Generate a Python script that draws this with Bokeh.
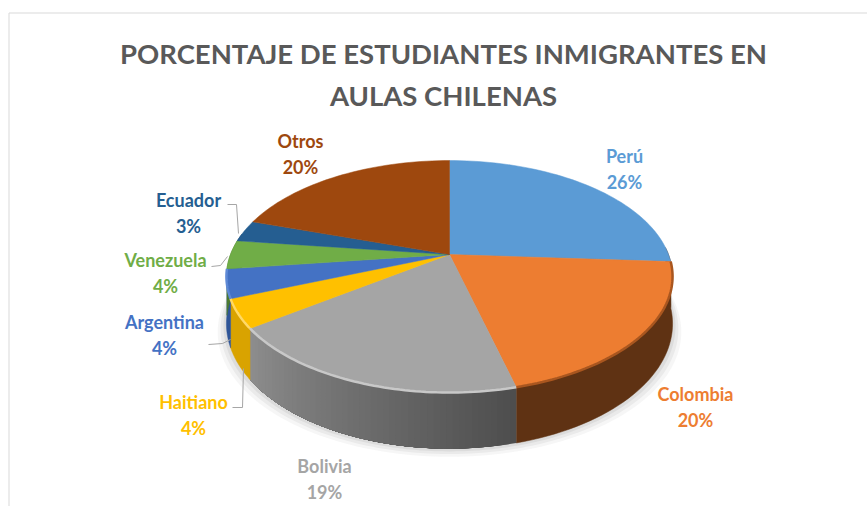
import math
from bokeh.plotting import figure
from bokeh.models import Range1d
from bokeh.core.properties import value
from bokeh.embed import file_html
from bokeh.resources import INLINE

categories = ["Perú", "Colombia", "Bolivia", "Haitiano", "Argentina", "Venezuela", "Ecuador", "Otros"]
percents = [26, 20, 19, 4, 4, 4, 3, 20]
colors = ["#5b9bd5", "#ed7d31", "#a5a5a5", "#ffc000", "#4472c4", "#70ad47", "#255e91", "#9e480e"]
side_start = ["#5f3213", "#5f3213", "#4d4d4d", "#d9a300", "#2f5597", "#4c7a30", "#1a4468", "#6e320a"]
side_end = ["#5f3213", "#5f3213", "#8e8e8e", "#d9a300", "#2f5597", "#4c7a30", "#1a4468", "#6e320a"]
label_x = [624, 695, 324, 193, 164, 165, 188, 300]
label_y = [155, 393, 465, 401, 321, 259, 199, 140]
title_lines = ["PORCENTAJE DE ESTUDIANTES INMIGRANTES EN", "AULAS CHILENAS"]

CX, CY, BX, AY, K, DEPTH = 449, 254, 219, 111.8, 0.19, 45.5


def project(frac):
    a = 2 * math.pi * frac
    X, Y = math.sin(a), -math.cos(a)
    d = 1 - K * Y
    return CX + BX * X / d, CY + AY * Y / d, DEPTH / d


def mix(c1, c2, t):
    a = [int(c1[i:i + 2], 16) for i in (1, 3, 5)]
    b = [int(c2[i:i + 2], 16) for i in (1, 3, 5)]
    return "#%02x%02x%02x" % tuple(round(u + (v - u) * t) for u, v in zip(a, b))


p = figure(width=867, height=506, x_range=Range1d(0, 867), y_range=Range1d(506, 0),
           toolbar_location=None, output_backend="svg", min_border=0,
           outline_line_color=None, background_fill_color="white")
p.xaxis.visible = False
p.yaxis.visible = False
p.grid.visible = False

# chart frame
p.line([8.5, 8.5, 867], [506, 12.5, 12.5], line_color="#d9d9d9", line_width=1)

total = sum(percents)
bounds = [0]
for v in percents:
    bounds.append(bounds[-1] + v / total)

# soft shadow under the pie
rim = [project(i / 240) for i in range(241)]
for grow, alpha in [(9, 0.05), (6, 0.07), (3, 0.09)]:
    p.patch([x + (x - CX) * grow / 230 for x, y, d in rim],
            [y + d + grow * 0.9 for x, y, d in rim],
            fill_color="#555555", fill_alpha=alpha, line_color=None)

# side wall: one solid polygon per slice, overlapping steps where the shade changes
for i, name in enumerate(categories):
    s, e = max(bounds[i], 0.24), min(bounds[i + 1], 0.78)
    if s >= e:
        continue
    if side_start[i] == side_end[i]:
        pts = [project(s + (e - s) * j / 40) for j in range(41)]
        xs = [q[0] for q in pts] + [q[0] for q in reversed(pts)]
        ys = [q[1] for q in pts] + [q[1] + q[2] for q in reversed(pts)]
        p.patch(xs, ys, fill_color=side_start[i], line_color=side_start[i], line_width=0.5)
    else:
        n = 50
        for j in range(n):
            f0, f1 = s + (e - s) * j / n, e
            pts = [project(f0 + (f1 - f0) * m / 16) for m in range(17)]
            xs = [q[0] for q in pts] + [q[0] for q in reversed(pts)]
            ys = [q[1] for q in pts] + [q[1] + q[2] for q in reversed(pts)]
            c = mix(side_start[i], side_end[i], (j + 0.5) / n)
            p.patch(xs, ys, fill_color=c, line_color=None)

# top face
for i, name in enumerate(categories):
    s, e = bounds[i], bounds[i + 1]
    n = max(2, int((e - s) * 200))
    pts = [project(s + (e - s) * j / n) for j in range(n + 1)]
    p.patch([CX] + [q[0] for q in pts], [CY] + [q[1] for q in pts],
            fill_color=colors[i], line_color=colors[i], line_width=0.5)

# bevel on the rim
bevel = {"Colombia": "#a9561f", "Bolivia": "#c8c8c8", "Haitiano": "#ffd966", "Argentina": "#5f8ad6"}
for i, name in enumerate(categories):
    if name in bevel:
        s, e = bounds[i], bounds[i + 1]
        pts = [project(s + (e - s) * j / 60) for j in range(61)]
        p.line([q[0] for q in pts], [q[1] for q in pts], line_color=bevel[name], line_width=2.5)

# leader lines
leaders = {
    "Ecuador": ([227, 236, 238], [204, 204, 233]),
    "Venezuela": ([211, 220, 227], [266, 265, 256]),
    "Argentina": ([208, 222, 230], [344, 343, 339]),
    "Haitiano": ([232, 242, 243], [407, 407, 368]),
}
for lx, ly in leaders.values():
    p.line(lx, ly, line_color="#a6a6a6", line_width=1)

# labels
for i, name in enumerate(categories):
    p.text([label_x[i]], [label_y[i]], text=[name], text_color=colors[i], text_align="center",
           text_baseline="middle", text_font=value("Lato"), text_font_style="bold", text_font_size="18px")
    p.text([label_x[i]], [label_y[i] + 26.5], text=[f"{percents[i]}%"], text_color=colors[i], text_align="center",
           text_baseline="middle", text_font=value("Lato"), text_font_style="bold", text_font_size="18px")

# title
for line, ty in zip(title_lines, [53, 95]):
    p.text([443], [ty], text=[line], text_color="#595959", text_align="center", text_baseline="middle",
           text_font=value("Lato"), text_font_style="bold", text_font_size="27.5px")

open("out.html", "w").write(file_html(p, INLINE))
